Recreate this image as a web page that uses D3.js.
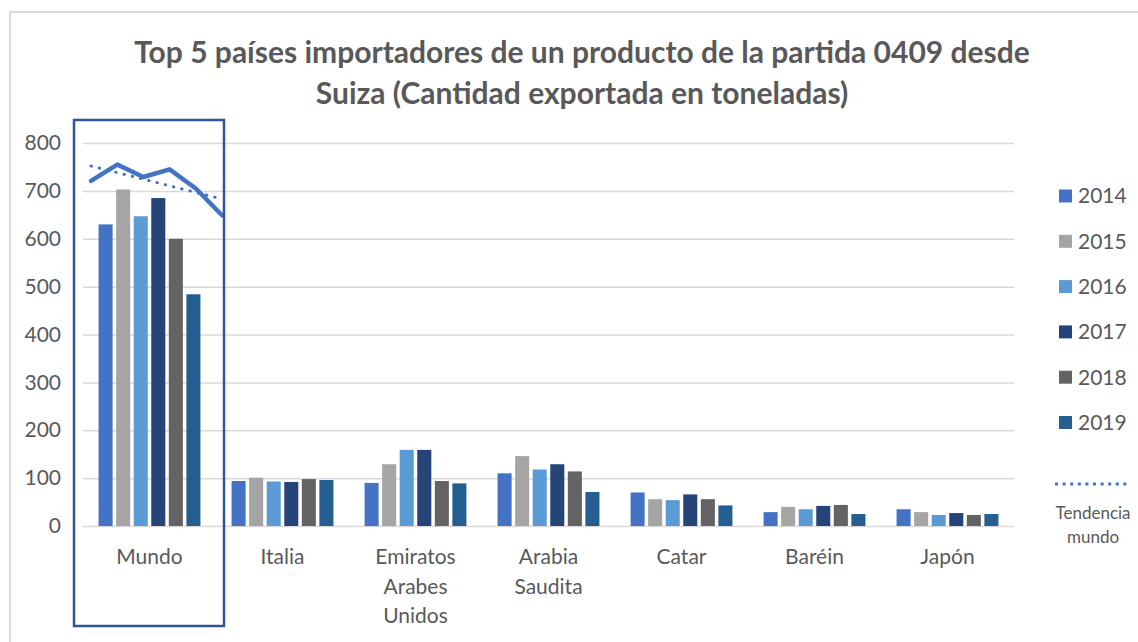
<!DOCTYPE html>
<html>
<head>
<meta charset="utf-8">
<script src="https://cdn.jsdelivr.net/npm/d3@7"></script>
<style>
  body { margin: 0; background: #fff; }
  svg text { font-family: Lato, 'Open Sans', sans-serif; fill: #595959; }
</style>
</head>
<body>
<svg id="chart"></svg>
<script>
// Categories and labels
var categorias = ['Mundo', 'Italia', 'Emiratos Arabes Unidos', 'Arabia Saudita', 'Catar', 'Baréin', 'Japón'];
var etiquetas = [['Mundo'], ['Italia'], ['Emiratos', 'Arabes', 'Unidos'], ['Arabia', 'Saudita'], ['Catar'], ['Baréin'], ['Japón']];
var anios = ['2014', '2015', '2016', '2017', '2018', '2019'];

// Series values (toneladas), one array per year
var v2014 = [630, 94, 90, 110, 70, 29, 35];
var v2015 = [703, 101, 129, 146, 56, 40, 29];
var v2016 = [647, 93, 159, 118, 54, 35, 23];
var v2017 = [685, 92, 159, 129, 66, 42, 27];
var v2018 = [600, 98, 94, 114, 56, 44, 23];
var v2019 = [484, 96, 89, 71, 43, 25, 25];

// Mundo line and its trend (first and last year)
var lineaMundo = [721, 755, 729, 745, 705, 649];
var tendenciaMundo = [752, 683];

var yTicks = [0, 100, 200, 300, 400, 500, 600, 700, 800];
var colores = ['#4472C4', '#A5A5A5', '#5B9BD5', '#264478', '#636363', '#255E91'];

var series = [v2014, v2015, v2016, v2017, v2018, v2019];

// Canvas size
var canvasWidth = 1138;
var canvasHeight = 642;

var plot = { left: 83, right: 1014, top: 143, bottom: 526 };

var svg = d3.select('#chart')
  .attr('width', canvasWidth)
  .attr('height', canvasHeight);

// Outer border
svg.append('rect')
  .attr('x', 10)
  .attr('y', 12)
  .attr('width', canvasWidth)
  .attr('height', canvasHeight)
  .attr('fill', 'none')
  .attr('stroke', '#D9D9D9')
  .attr('stroke-width', 2);

// Title
var title = svg.append('text')
  .attr('text-anchor', 'middle')
  .style('font-weight', 'bold')
  .style('font-size', '30px');
title.append('tspan').attr('x', 582).attr('y', 63)
  .text('Top 5 países importadores de un producto de la partida 0409 desde');
title.append('tspan').attr('x', 582).attr('y', 104)
  .text('Suiza (Cantidad exportada en toneladas)');

// Scales
var x0 = d3.scaleBand()
  .domain(categorias)
  .range([plot.left, plot.right])
  .paddingInner(0.234)
  .paddingOuter(0.117);

var x1 = d3.scaleBand()
  .domain(anios)
  .range([0, x0.bandwidth()])
  .paddingInner(0.2);

var y = d3.scaleLinear()
  .domain([0, 800])
  .range([plot.bottom, plot.top]);

var xLinea = d3.scalePoint()
  .domain(anios)
  .range([91, 222]);

// Grid + y axis
var yAxis = d3.axisLeft(y)
  .tickValues(yTicks)
  .tickSizeInner(-(plot.right - plot.left))
  .tickSizeOuter(0)
  .tickPadding(22);

var yG = svg.append('g')
  .attr('class', 'y-axis')
  .attr('transform', 'translate(' + plot.left + ',0)')
  .call(yAxis);
yG.select('.domain').remove();
yG.selectAll('line').attr('stroke', '#D9D9D9').attr('stroke-width', 1.5);
yG.selectAll('text')
  .style('font-size', '21px')
  .style('font-family', 'Lato, sans-serif')
  .attr('fill', '#595959');

// Bars
var grupos = svg.append('g')
  .classed('bars', true)
  .selectAll('.grupo')
  .data(categorias)
  .enter()
  .append('g')
  .classed('grupo', true)
  .attr('transform', function(d) {
    return 'translate(' + x0(d) + ',0)';
  });

grupos.selectAll('rect')
  .data(function(d, i) {
    return anios.map(function(a, j) {
      return { anio: a, valor: series[j][i], color: colores[j] };
    });
  })
  .enter()
  .append('rect')
  .attr('x', function(d) { return x1(d.anio); })
  .attr('y', function(d) { return y(d.valor); })
  .attr('width', x1.bandwidth())
  .attr('height', function(d) { return plot.bottom - y(d.valor); })
  .attr('fill', function(d) { return d.color; });

// Category axis
var xAxis = d3.axisBottom(x0).tickSize(0).tickPadding(0);
var xG = svg.append('g')
  .attr('class', 'x-axis')
  .attr('transform', 'translate(0,' + plot.bottom + ')')
  .call(xAxis);
xG.select('.domain').remove();
xG.selectAll('text').each(function(d, i) {
  var t = d3.select(this);
  t.text(null)
    .attr('y', 0)
    .attr('dy', null)
    .style('font-size', '21px')
    .style('font-family', 'Lato, sans-serif')
    .attr('fill', '#595959');
  etiquetas[i].forEach(function(linea, k) {
    t.append('tspan')
      .attr('x', 0)
      .attr('y', 38 + k * 29.5)
      .text(linea);
  });
});

// Mundo line
var linea = d3.line()
  .x(function(d, i) { return xLinea(anios[i]); })
  .y(function(d) { return y(d); });

svg.append('path')
  .datum(lineaMundo)
  .attr('d', linea)
  .attr('fill', 'none')
  .attr('stroke', '#4472C4')
  .attr('stroke-width', 4.5)
  .attr('stroke-linejoin', 'round')
  .attr('stroke-linecap', 'round');

// Trend line (dotted)
svg.append('line')
  .attr('x1', xLinea(anios[0]))
  .attr('x2', xLinea(anios[anios.length - 1]))
  .attr('y1', y(tendenciaMundo[0]))
  .attr('y2', y(tendenciaMundo[1]))
  .attr('stroke', '#4472C4')
  .attr('stroke-width', 3)
  .attr('stroke-linecap', 'round')
  .attr('stroke-dasharray', '0.5 8');

// Mundo highlight box
svg.append('rect')
  .attr('x', 74)
  .attr('y', 120)
  .attr('width', 150)
  .attr('height', 506)
  .attr('fill', 'none')
  .attr('stroke', '#2F5597')
  .attr('stroke-width', 2.5);

// Legend
var legend = svg.append('g').classed('legend', true);
var items = legend.selectAll('.item')
  .data(anios)
  .enter()
  .append('g')
  .classed('item', true)
  .attr('transform', function(d, i) {
    return 'translate(1059,' + (196 + i * 45.3) + ')';
  });
items.append('rect')
  .attr('x', 0)
  .attr('y', -6.5)
  .attr('width', 13)
  .attr('height', 13)
  .attr('fill', function(d, i) { return colores[i]; });
items.append('text')
  .attr('x', 19)
  .attr('y', 0)
  .attr('dy', '0.35em')
  .style('font-size', '21px')
  .text(function(d) { return d; });

legend.append('line')
  .attr('x1', 1055)
  .attr('x2', 1131)
  .attr('y1', 484)
  .attr('y2', 484)
  .attr('stroke', '#4472C4')
  .attr('stroke-width', 3)
  .attr('stroke-dasharray', '3 4.6');

var tl = legend.append('text')
  .attr('text-anchor', 'middle')
  .style('font-size', '17px');
tl.append('tspan').attr('x', 1093).attr('y', 519).text('Tendencia');
tl.append('tspan').attr('x', 1093).attr('y', 543).text('mundo');
</script>
</body>
</html>
